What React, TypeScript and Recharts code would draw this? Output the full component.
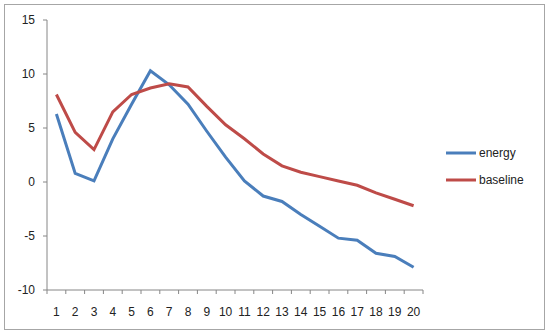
import React from 'react';
import { LineChart, Line, XAxis, YAxis } from 'recharts';

const categories = ['1','2','3','4','5','6','7','8','9','10','11','12','13','14','15','16','17','18','19','20'];
const energy = [6.3, 0.8, 0.1, 4.0, 7.2, 10.3, 9.0, 7.2, 4.7, 2.3, 0.1, -1.3, -1.8, -3.0, -4.1, -5.2, -5.4, -6.6, -6.9, -7.9];
const baseline = [8.1, 4.6, 3.0, 6.5, 8.1, 8.7, 9.1, 8.8, 7.0, 5.3, 4.0, 2.6, 1.5, 0.9, 0.5, 0.1, -0.3, -1.0, -1.6, -2.2];
const yTicks = [-10, -5, 0, 5, 10, 15];
const seriesNames = ['energy', 'baseline'];

const data = categories.map((c, i) => ({ cat: c, energy: energy[i], baseline: baseline[i] }));

const BLUE = '#4A7EBB';
const RED = '#BE4B48';
const AXIS = '#868686';
const FONT = '"Liberation Sans", Arial, sans-serif';

const XTick = (props: any) => {
  const { x, y, payload, index } = props;
  const off = payload && payload.offset ? payload.offset : 9.4;
  const axisY = y - 17;
  const last = index === categories.length - 1;
  return (
    <g>
      <line x1={x - off} x2={x - off} y1={axisY} y2={axisY + 4} stroke={AXIS} strokeWidth={1} />
      {last && <line x1={x + off} x2={x + off} y1={axisY} y2={axisY + 4} stroke={AXIS} strokeWidth={1} />}
      <text x={x} y={y} dy="0.71em" textAnchor="middle" fill="#222" fontSize={12} fontFamily={FONT}>
        {payload.value}
      </text>
    </g>
  );
};

const LegendBox = () => {
  const colors = [BLUE, RED];
  return (
    <div style={{ position: 'absolute', left: 446, top: 139, fontFamily: FONT, fontSize: 12, color: '#222' }}>
      {seriesNames.map((n, i) => (
        <div key={n} style={{ display: 'flex', alignItems: 'center', height: 27 }}>
          <svg width={31} height={6} style={{ marginRight: 2 }}>
            <line x1={0} x2={30} y1={3} y2={3} stroke={colors[i]} strokeWidth={3} />
          </svg>
          <span>{n}</span>
        </div>
      ))}
    </div>
  );
};

export default function App() {
  return (
    <div style={{ position: 'absolute', left: 0, top: 0, width: 550, height: 334, background: '#fff' }}>
      <div style={{ position: 'absolute', left: 4, top: 4, width: 539, height: 324, border: '1px solid #a6a6a6' }} />
      <div style={{ position: 'absolute', left: 0, top: 0 }}>
        <LineChart width={550} height={334} data={data} margin={{ top: 20, right: 127, bottom: 14, left: 0 }}>
          <YAxis
            type="number"
            domain={[-10, 15]}
            ticks={yTicks}
            width={47}
            tickSize={4}
            tickMargin={8}
            axisLine={{ stroke: AXIS }}
            tickLine={{ stroke: AXIS }}
            tick={{ fill: '#222', fontSize: 12, fontFamily: FONT }}
            interval={0}
          />
          <XAxis
            dataKey="cat"
            scale="band"
            height={30}
            tickSize={4}
            tickMargin={13}
            axisLine={{ stroke: AXIS }}
            tickLine={false}
            tick={<XTick />}
            interval={0}
          />
          <Line type="linear" dataKey="energy" name={seriesNames[0]} stroke={BLUE} strokeWidth={3} dot={false} isAnimationActive={false} />
          <Line type="linear" dataKey="baseline" name={seriesNames[1]} stroke={RED} strokeWidth={3} dot={false} isAnimationActive={false} />
        </LineChart>
      </div>
      <LegendBox />
    </div>
  );
}
